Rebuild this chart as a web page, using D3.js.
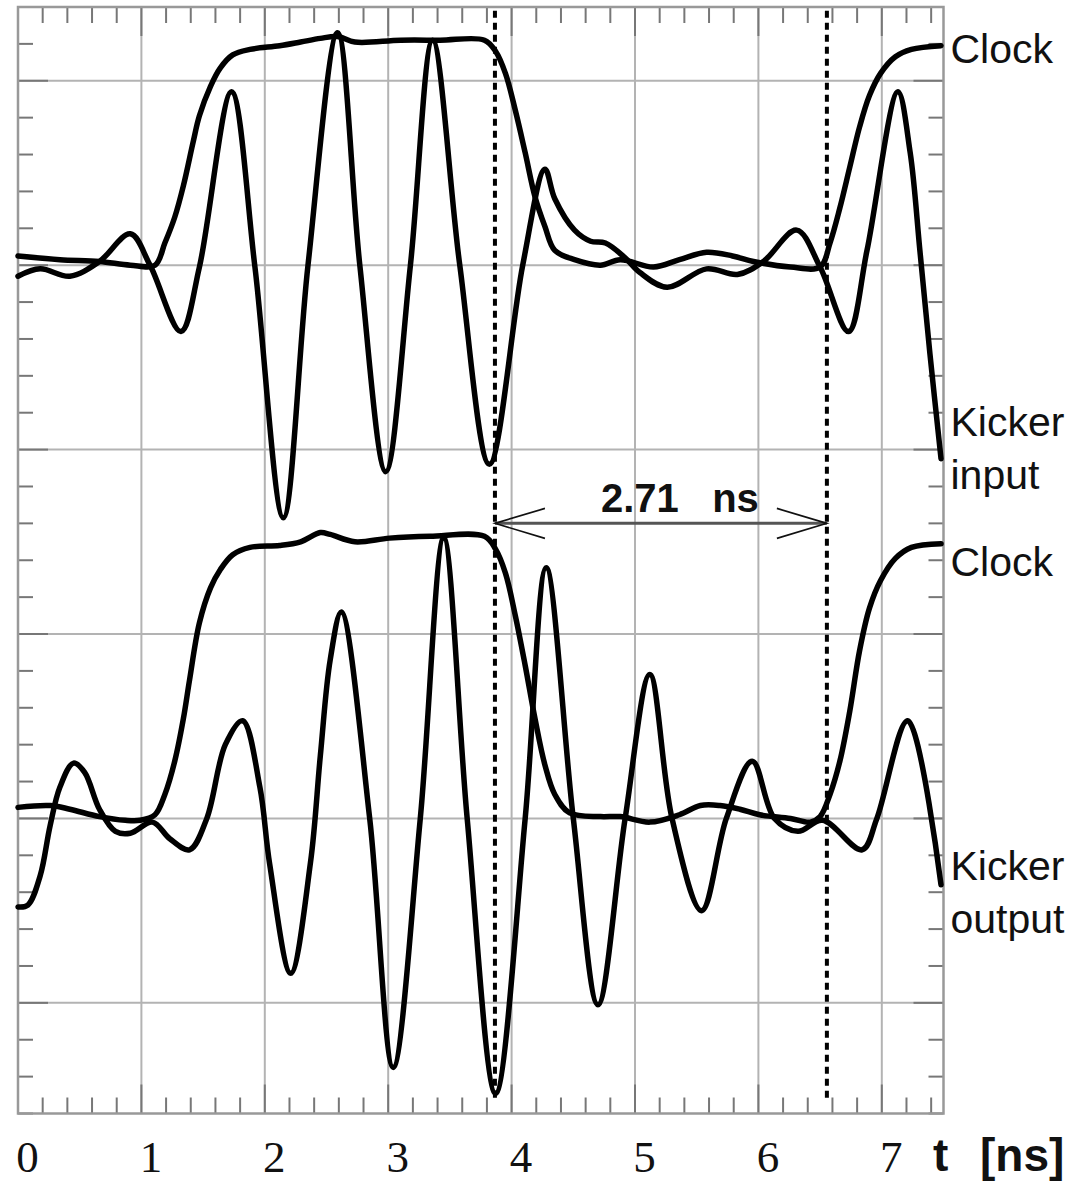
<!DOCTYPE html>
<html>
<head>
<meta charset="utf-8">
<script src="https://cdn.jsdelivr.net/npm/d3@7"></script>
<style>
  html, body { margin: 0; padding: 0; background: #fff; }
  svg { display: block; }
</style>
</head>
<body>
<svg id="chart" width="1088" height="1182"></svg>
<script>
// ---------------- DATA (t in ns, v in screen divisions) ----------------
const xTickValues = [0, 1, 2, 3, 4, 5, 6, 7];
const xTickLabels = ["0", "1", "2", "3", "4", "5", "6", "7"];
const yGridValues = [0, 1, 2, 3, 4, 5];

// Upper pair
const clockUpper = [[0.00,4.05],[0.34,4.03],[0.66,4.02],[0.91,4.00],[1.11,4.00],[1.19,4.12],[1.27,4.26],[1.34,4.43],[1.42,4.67],[1.47,4.81],[1.56,4.97],[1.64,5.07],[1.74,5.14],[1.88,5.17],[2.12,5.19],[2.29,5.21],[2.45,5.23],[2.59,5.24],[2.73,5.21],[3.10,5.22],[3.42,5.22],[3.78,5.22],[3.87,5.16],[3.95,5.04],[4.03,4.84],[4.11,4.61],[4.19,4.37],[4.27,4.21],[4.35,4.08],[4.51,4.03],[4.72,4.00],[4.88,4.03],[5.15,3.99],[5.36,4.03],[5.58,4.07],[5.79,4.05],[5.96,4.02],[6.26,3.99],[6.50,3.99],[6.58,4.12],[6.66,4.31],[6.74,4.53],[6.82,4.75],[6.90,4.92],[6.99,5.04],[7.11,5.13],[7.24,5.17],[7.48,5.19]];
const kickerInput = [[0.00,3.94],[0.18,3.98],[0.42,3.94],[0.66,4.02],[0.91,4.17],[1.07,4.00],[1.32,3.64],[1.47,3.99],[1.73,4.94],[1.92,3.99],[2.15,2.63],[2.35,4.00],[2.59,5.26],[2.77,4.00],[2.98,2.88],[3.18,4.00],[3.36,5.22],[3.58,4.00],[3.82,2.92],[4.09,4.00],[4.27,4.52],[4.35,4.36],[4.51,4.19],[4.64,4.13],[4.76,4.12],[4.92,4.04],[5.04,3.96],[5.26,3.88],[5.58,3.98],[5.83,3.95],[6.04,4.02],[6.31,4.19],[6.50,3.99],[6.73,3.64],[6.88,4.08],[7.13,4.94],[7.23,4.61],[7.31,4.07],[7.39,3.52],[7.48,2.95]];

// Lower pair
const clockLower = [[0.00,1.06],[0.26,1.07],[0.42,1.05],[0.66,1.01],[0.87,0.99],[0.99,0.99],[1.11,1.02],[1.19,1.13],[1.27,1.31],[1.34,1.54],[1.39,1.75],[1.47,2.06],[1.56,2.25],[1.64,2.35],[1.74,2.43],[1.88,2.47],[2.12,2.48],[2.29,2.50],[2.45,2.55],[2.53,2.54],[2.73,2.50],[3.01,2.52],[3.34,2.53],[3.78,2.53],[3.87,2.46],[3.95,2.33],[4.03,2.10],[4.11,1.83],[4.19,1.54],[4.27,1.29],[4.35,1.13],[4.47,1.03],[4.72,1.01],[4.88,1.01],[5.12,0.98],[5.36,1.02],[5.53,1.07],[5.69,1.07],[5.85,1.05],[6.01,1.02],[6.26,1.00],[6.42,0.98],[6.50,1.01],[6.58,1.13],[6.66,1.31],[6.74,1.58],[6.82,1.91],[6.90,2.14],[6.99,2.29],[7.11,2.41],[7.24,2.47],[7.48,2.49]];
const kickerOutput = [[0.00,0.52],[0.08,0.53],[0.18,0.69],[0.26,0.96],[0.34,1.17],[0.45,1.30],[0.54,1.25],[0.66,1.05],[0.79,0.93],[0.91,0.92],[1.09,0.98],[1.23,0.89],[1.39,0.83],[1.53,1.00],[1.68,1.40],[1.82,1.53],[1.96,1.17],[2.04,0.75],[2.21,0.16],[2.37,0.76],[2.45,1.34],[2.53,1.86],[2.62,2.12],[2.85,1.00],[3.04,-0.35],[3.26,1.00],[3.45,2.52],[3.64,1.00],[3.87,-0.49],[4.11,1.00],[4.28,2.36],[4.50,1.00],[4.70,-0.01],[4.92,1.00],[5.12,1.78],[5.30,1.00],[5.54,0.50],[5.74,1.00],[5.95,1.31],[6.13,1.00],[6.32,0.93],[6.52,0.99],[6.84,0.83],[6.96,1.00],[7.21,1.53],[7.48,0.64]];

// Markers: dashed time cursors and the measured interval
const cursorTimes = [3.865, 6.555];
const cursorSpan = [5.38, -0.54];
const intervalLevel = 2.60;
const intervalLabel = "2.71   ns";
const traceLabels = ["Clock", "Kicker", "input", "Clock", "Kicker", "output"];
const axisTitle = ["t", "[ns]"];

// ---------------- LAYOUT ----------------
const svg = d3.select("#chart");
const plot = { left: 18, right: 943.5, top: 7, bottom: 1113.5 };
const x = d3.scaleLinear().domain([0, 7.5]).range([plot.left, plot.right]);
const y = d3.scaleLinear().domain([-0.6, 5.4]).range([plot.bottom, plot.top]);

const gridColor = "#b3b3b3";
const tickColor = "#777";

// grid lines
svg.append("g").selectAll("line.vg").data(xTickValues.filter(d => d > 0)).join("line")
  .attr("x1", d => x(d)).attr("x2", d => x(d))
  .attr("y1", plot.top).attr("y2", plot.bottom)
  .attr("stroke", gridColor).attr("stroke-width", 2);
svg.append("g").selectAll("line.hg").data(yGridValues).join("line")
  .attr("x1", plot.left).attr("x2", plot.right)
  .attr("y1", d => y(d)).attr("y2", d => y(d))
  .attr("stroke", gridColor).attr("stroke-width", 2);

// ticks (inward on all four sides)
const xMinor = d3.range(0, 7.5001, 0.2).map(d => +d.toFixed(2));
const yMinor = d3.range(-0.6, 5.4001, 0.2).map(d => +d.toFixed(2));
const isInt = d => Math.abs(d - Math.round(d)) < 1e-6;
const tg = svg.append("g").attr("stroke", tickColor).attr("stroke-width", 2);
tg.selectAll("line.xt").data(xMinor).join("line")
  .attr("x1", d => x(d)).attr("x2", d => x(d))
  .attr("y1", plot.top).attr("y2", d => plot.top + (isInt(d) ? 29 : 16));
tg.selectAll("line.xb").data(xMinor).join("line")
  .attr("x1", d => x(d)).attr("x2", d => x(d))
  .attr("y1", plot.bottom).attr("y2", d => plot.bottom - (isInt(d) ? 29 : 16));
tg.selectAll("line.yl").data(yMinor).join("line")
  .attr("x1", plot.left).attr("x2", d => plot.left + (isInt(d) ? 30 : 15))
  .attr("y1", d => y(d)).attr("y2", d => y(d));
tg.selectAll("line.yr").data(yMinor).join("line")
  .attr("x1", plot.right).attr("x2", d => plot.right - (isInt(d) ? 30 : 15))
  .attr("y1", d => y(d)).attr("y2", d => y(d));

// frame
svg.append("rect")
  .attr("x", plot.left).attr("y", plot.top)
  .attr("width", plot.right - plot.left).attr("height", plot.bottom - plot.top)
  .attr("fill", "none").attr("stroke", "#999").attr("stroke-width", 2.5);

// x axis labels
const xAxis = d3.axisBottom(x).tickValues(xTickValues)
  .tickFormat((d, i) => xTickLabels[i]).tickSize(0).tickPadding(0);
const gx = svg.append("g").attr("transform", `translate(0,${plot.bottom})`).call(xAxis);
gx.select(".domain").remove();
gx.selectAll("text")
  .attr("y", 58).attr("dy", 0).attr("dx", 9)
  .attr("font-family", "'Liberation Serif', 'Times New Roman', serif")
  .attr("font-size", 45).attr("fill", "#111");

const titleFont = "'Liberation Sans', Arial, sans-serif";
svg.append("text").attr("x", 933).attr("y", 1171)
  .attr("font-family", titleFont)
  .attr("font-weight", "bold").attr("font-size", 46).attr("fill", "#111")
  .text(axisTitle[0]);
svg.append("text").attr("x", 980).attr("y", 1171)
  .attr("font-family", titleFont)
  .attr("font-weight", "bold").attr("font-size", 46).attr("fill", "#111")
  .text(axisTitle[1]);

// dashed cursors
svg.append("g").selectAll("line").data(cursorTimes).join("line")
  .attr("x1", d => x(d)).attr("x2", d => x(d))
  .attr("y1", y(cursorSpan[0])).attr("y2", y(cursorSpan[1]))
  .attr("stroke", "#000").attr("stroke-width", 4)
  .attr("stroke-dasharray", "7,5");

// traces
const line = d3.line().x(d => x(d[0])).y(d => y(d[1])).curve(d3.curveCatmullRom.alpha(0.5));
const traces = [clockUpper, kickerInput, clockLower, kickerOutput];
svg.append("g").selectAll("path").data(traces).join("path")
  .attr("d", line)
  .attr("fill", "none").attr("stroke", "#000").attr("stroke-width", 5.5)
  .attr("stroke-linejoin", "round").attr("stroke-linecap", "round");

// interval arrow
const ay = y(intervalLevel);
const ax1 = x(cursorTimes[0]), ax2 = x(cursorTimes[1]);
const ag = svg.append("g");
ag.append("line").attr("x1", ax1).attr("x2", ax2).attr("y1", ay).attr("y2", ay)
  .attr("stroke", "#555").attr("stroke-width", 3);
ag.append("path")
  .attr("d", `M${ax1 + 50},${ay - 15}L${ax1},${ay}L${ax1 + 50},${ay + 15}`)
  .attr("fill", "none").attr("stroke", "#111").attr("stroke-width", 1.6);
ag.append("path")
  .attr("d", `M${ax2 - 50},${ay - 15}L${ax2},${ay}L${ax2 - 50},${ay + 15}`)
  .attr("fill", "none").attr("stroke", "#111").attr("stroke-width", 1.6);
ag.append("text").attr("x", ax1 + 106).attr("y", ay - 11)
  .attr("font-family", titleFont)
  .attr("font-weight", "bold").attr("font-size", 40).attr("fill", "#111")
  .style("white-space", "pre")
  .text(intervalLabel);

// trace labels on the right
const labelBaselines = [63, 436, 489, 576, 880, 933];
svg.append("g").selectAll("text").data(traceLabels).join("text")
  .attr("x", plot.right + 7).attr("y", (d, i) => labelBaselines[i])
  .attr("font-family", titleFont)
  .attr("font-size", 41).attr("fill", "#111")
  .text(d => d);
</script>
</body>
</html>
